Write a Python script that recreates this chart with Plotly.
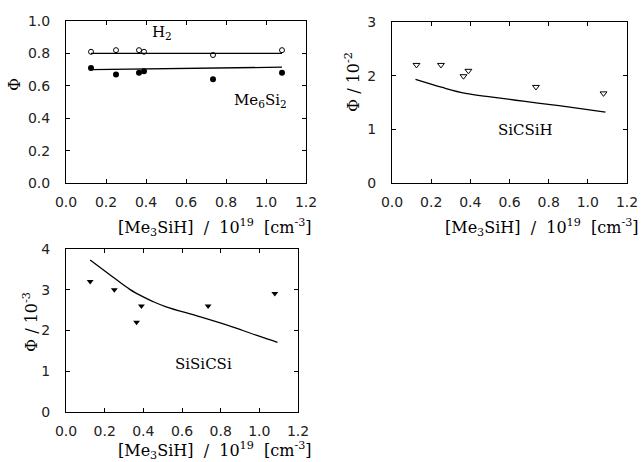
import plotly.graph_objects as go

# ---- data ----
conc = [0.125, 0.25, 0.365, 0.39, 0.735, 1.08]
phi_h2 = [0.81, 0.82, 0.82, 0.81, 0.79, 0.82]
phi_me6si2 = [0.71, 0.67, 0.68, 0.69, 0.64, 0.68]
fit_x_flat = [0.125, 1.08]
fit_h2 = [0.80, 0.80]
fit_me6si2 = [0.70, 0.715]

phi_sicsih = [2.2, 2.2, 1.99, 2.09, 1.79, 1.67]          # x 10^-2
fit_sicsih_x = [0.12, 0.257, 0.376, 0.512, 0.68, 0.853, 0.99, 1.09]
fit_sicsih_y = [1.93, 1.78, 1.67, 1.60, 1.52, 1.44, 1.37, 1.32]

phi_sisicsi = [3.2, 3.0, 2.2, 2.6, 2.6, 2.91]          # x 10^-3
fit_sisicsi_x = [0.125, 0.26, 0.33, 0.397, 0.45, 0.518, 0.69, 0.86, 0.999, 1.094]
fit_sisicsi_y = [3.73, 3.25, 3.01, 2.83, 2.71, 2.58, 2.34, 2.09, 1.86, 1.71]

x_ticks = [0.0, 0.2, 0.4, 0.6, 0.8, 1.0, 1.2]

fig = go.Figure()
line_style = dict(color="black", width=1.3)

# Panel 1
fig.add_trace(go.Scatter(x=fit_x_flat, y=fit_h2, mode="lines", line=line_style, xaxis="x", yaxis="y"))
fig.add_trace(go.Scatter(x=fit_x_flat, y=fit_me6si2, mode="lines", line=line_style, xaxis="x", yaxis="y"))
fig.add_trace(go.Scatter(x=conc, y=phi_h2, mode="markers", xaxis="x", yaxis="y",
                         marker=dict(symbol="circle-open", size=5, color="black", line=dict(width=1))))
fig.add_trace(go.Scatter(x=conc, y=phi_me6si2, mode="markers", xaxis="x", yaxis="y",
                         marker=dict(symbol="circle", size=6, color="black")))
# Panel 2
fig.add_trace(go.Scatter(x=fit_sicsih_x, y=fit_sicsih_y, mode="lines",
                         line=dict(color="black", width=1.3, shape="spline"), xaxis="x2", yaxis="y2"))
fig.add_trace(go.Scatter(x=conc, y=phi_sicsih, mode="markers", xaxis="x2", yaxis="y2",
                         marker=dict(symbol="triangle-down-open", size=6, color="black", line=dict(width=1))))
# Panel 3
fig.add_trace(go.Scatter(x=fit_sisicsi_x, y=fit_sisicsi_y, mode="lines",
                         line=dict(color="black", width=1.3, shape="spline"), xaxis="x3", yaxis="y3"))
fig.add_trace(go.Scatter(x=conc, y=phi_sisicsi, mode="markers", xaxis="x3", yaxis="y3",
                         marker=dict(symbol="triangle-down", size=6, color="black")))

W, H = 642, 462
def dom_x(a, b):
    return [a / W, b / W]
def dom_y(top, bottom):
    return [1 - bottom / H, 1 - top / H]

tickfont = dict(family="DejaVu Sans", size=14, color="#222")
common_x = dict(range=[0, 1.2], tickvals=x_ticks, tickformat=".1f", ticks="inside", ticklen=4,
                showline=True, linecolor="black", linewidth=1, mirror="ticks", showgrid=False,
                zeroline=False, tickfont=tickfont, tickcolor="black", automargin=False,
                ticklabelstandoff=6)
common_y = dict(ticks="inside", ticklen=4, showline=True, linecolor="black", linewidth=1,
                mirror="ticks", showgrid=False, zeroline=False, tickfont=tickfont, tickcolor="black",
                automargin=False, ticklabelstandoff=12)

fig.update_layout(
    width=W, height=H, margin=dict(l=0, r=0, t=0, b=0, autoexpand=False),
    paper_bgcolor="white", plot_bgcolor="white", showlegend=False,
    xaxis=dict(domain=dom_x(66, 306), anchor="y", **common_x),
    yaxis=dict(domain=dom_y(21, 183), anchor="x", range=[0, 1.0], tickvals=[0, 0.2, 0.4, 0.6, 0.8, 1.0],
               tickformat=".1f", **common_y),
    xaxis2=dict(domain=dom_x(392, 627), anchor="y2", **common_x),
    yaxis2=dict(domain=dom_y(22, 183), anchor="x2", range=[0, 3], tickvals=[0, 1, 2, 3], **common_y),
    xaxis3=dict(domain=dom_x(66, 298), anchor="y3", **common_x),
    yaxis3=dict(domain=dom_y(249, 412), anchor="x3", range=[0, 4], tickvals=[0, 1, 2, 3, 4], **common_y),
)

serif = dict(family="DejaVu Serif", size=16, color="black")
label_font = dict(family="DejaVu Serif", size=15, color="black")
xtitle = "[Me<sub>3</sub>SiH]&nbsp; /&nbsp; 10<sup>19</sup>&nbsp; [cm<sup>-3</sup>]"
ann = []
# x titles (paper coordinates)
ann.append(dict(x=314 / W, y=1 - 228 / H, xref="paper", yref="paper", text=xtitle, showarrow=False,
                xanchor="right", yanchor="middle", font=serif))
ann.append(dict(x=641 / W, y=1 - 228 / H, xref="paper", yref="paper", text=xtitle, showarrow=False,
                xanchor="right", yanchor="middle", font=serif))
ann.append(dict(x=314 / W, y=1 - 450 / H, xref="paper", yref="paper", text=xtitle, showarrow=False,
                xanchor="right", yanchor="middle", font=serif))
# y titles
ann.append(dict(x=15 / W, y=1 - 85 / H, xref="paper", yref="paper", text="Φ", showarrow=False,
                textangle=-90, xanchor="center", yanchor="middle", font=serif))
ann.append(dict(x=352 / W, y=1 - 82 / H, xref="paper", yref="paper", text="Φ / 10<sup>-2</sup>", showarrow=False,
                textangle=-90, xanchor="center", yanchor="middle", font=serif))
ann.append(dict(x=30 / W, y=1 - 322 / H, xref="paper", yref="paper", text="Φ / 10<sup>-3</sup>", showarrow=False,
                textangle=-90, xanchor="center", yanchor="middle", font=serif))
# in-plot labels
ann.append(dict(x=0.48, y=0.93, xref="x", yref="y", text="H<sub>2</sub>", showarrow=False, font=label_font))
ann.append(dict(x=0.97, y=0.51, xref="x", yref="y", text="Me<sub>6</sub>Si<sub>2</sub>", showarrow=False, font=label_font))
ann.append(dict(x=0.68, y=0.99, xref="x2", yref="y2", text="SiCSiH", showarrow=False, font=label_font))
ann.append(dict(x=0.71, y=1.19, xref="x3", yref="y3", text="SiSiCSi", showarrow=False, font=label_font))
fig.update_layout(annotations=ann)

fig.write_html("out.html", config={"displayModeBar": False},
               post_script="document.body.style.margin='0';document.body.style.overflow='hidden';")
